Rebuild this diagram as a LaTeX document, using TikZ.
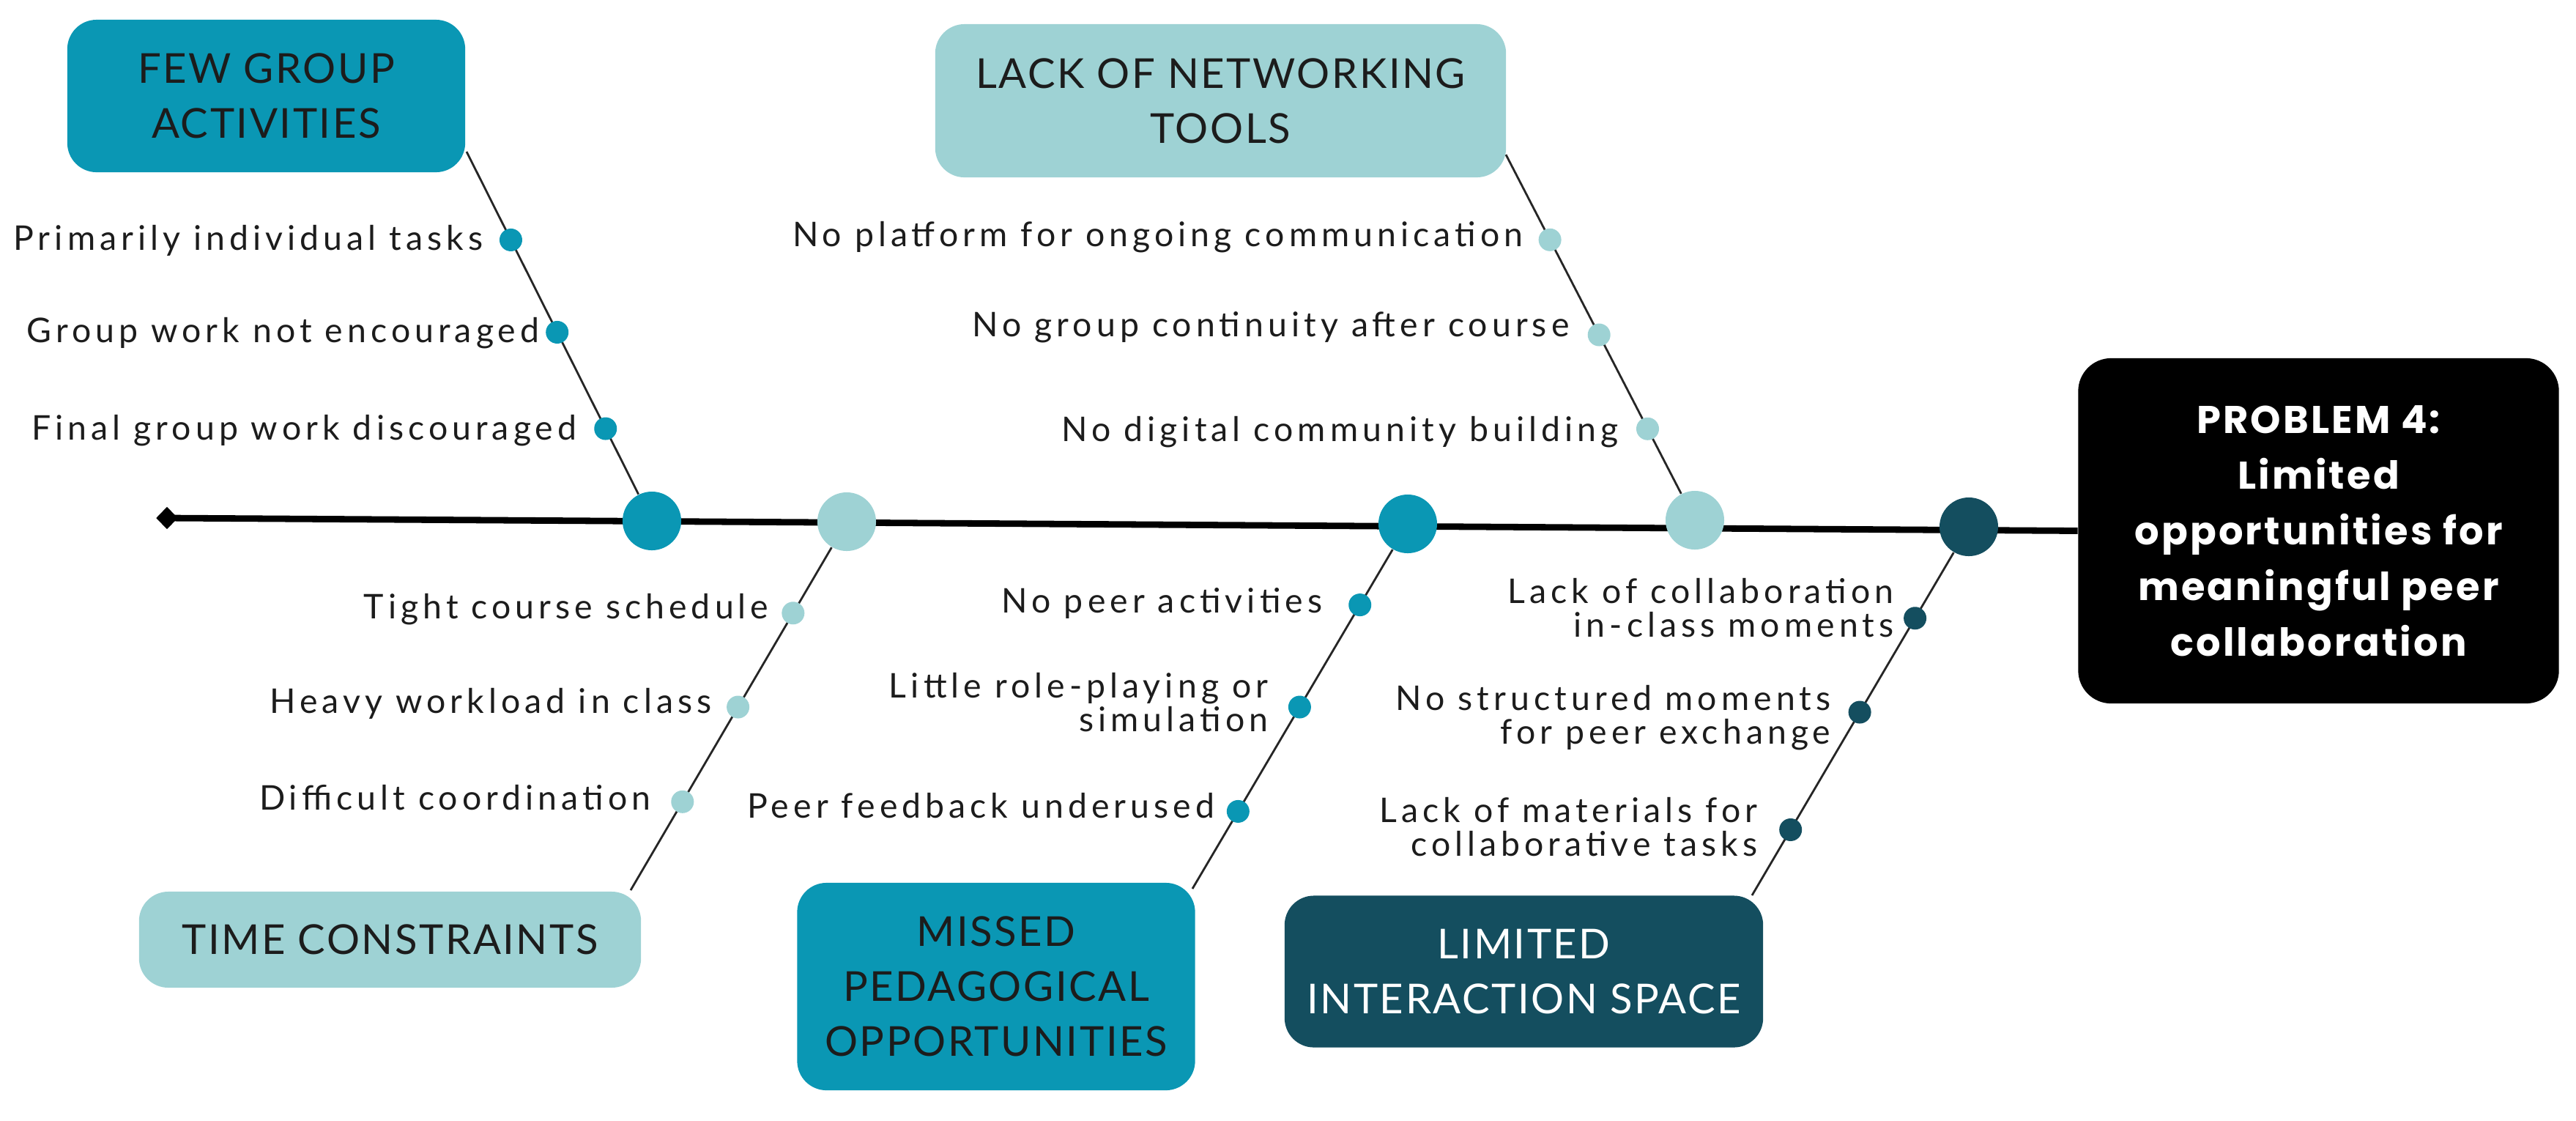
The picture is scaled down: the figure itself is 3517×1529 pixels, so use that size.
\documentclass[tikz,border=0pt]{standalone}
\usepackage{fontspec}
\setmainfont{Lato}
\newfontfamily\popfont{Poppins}
\usetikzlibrary{shapes.geometric,calc,backgrounds}
\definecolor{tealA}{HTML}{0A97B4}
\definecolor{tealL}{HTML}{9ED2D4}
\definecolor{tealD}{HTML}{144E5F}
\definecolor{txt}{HTML}{1C1C1C}
\newcommand\mylblfont{\addfontfeatures{LetterSpace=13.0}\fontsize{13.2}{13.1}\selectfont}
\newcommand\myboxfont{\addfontfeatures{LetterSpace=4.5}\fontsize{16}{21.3}\selectfont}
\newcommand\myprobfont{\popfont\bfseries\addfontfeatures{LetterSpace=6.0}\fontsize{15}{21.6}\selectfont}
\begin{document}
\begin{tikzpicture}[x=0.01cm,y=-0.01cm,
  box/.style={rounded corners=0.4cm, inner sep=0, align=center, font=\myboxfont, text=txt},
  spine/.style={line width=2.5pt, black},
  bone/.style={line width=0.8pt, black!85},
  bigdot/.style={circle, inner sep=0, minimum size=0.8cm},
  smalldot/.style={circle, inner sep=0, minimum size=0.31cm},
  lbl/.style={inner sep=0, font=\mylblfont, text=txt, align=right}]
\useasboundingbox (0,0) rectangle (3517,1529);
% category boxes
\node[box, fill=tealA, minimum width=5.43cm, minimum height=2.08cm] (few) at (363.5,131) {FEW GROUP\\ACTIVITIES};
\node[box, fill=tealL, minimum width=7.79cm, minimum height=2.09cm] (lack) at (1666.5,137.5) {LACK OF NETWORKING\\TOOLS};
\node[box, fill=tealL, minimum width=6.85cm, minimum height=1.31cm] (time) at (532.5,1282.5) {TIME CONSTRAINTS};
\node[box, fill=tealA, minimum width=5.43cm, minimum height=2.83cm] (missed) at (1360,1346.5) {MISSED\\PEDAGOGICAL\\OPPORTUNITIES};
\node[box, fill=tealD, text=white, minimum width=6.53cm, minimum height=2.07cm] (limited) at (2080.5,1326) {LIMITED\\INTERACTION SPACE};
\node[box, fill=black, text=white, rounded corners=0.45cm, minimum width=6.56cm, minimum height=4.71cm, font=\myprobfont] (prob) at (3165.5,724.5) {PROBLEM 4:\\Limited\\opportunities for\\meaningful peer\\collaboration};
% spine
\node[diamond, fill=black, inner sep=0, minimum width=0.3cm, minimum height=0.31cm] (tail) at (228,707) {};
\coordinate (p1) at (890,711);
\coordinate (p2) at (1156,712);
\coordinate (p3) at (1922,715);
\coordinate (p4) at (2314,710);
\coordinate (p5) at (2688,719);
% bone ends inside boxes
\coordinate (b1) at (637,207);
\coordinate (b2) at (2056,211);
\coordinate (b3) at (861,1215);
\coordinate (b4) at (1628,1213);
\coordinate (b5) at (2392,1222);
\node[bigdot, fill=tealA] (c1) at (p1) {};
\node[bigdot, fill=tealL] (c2) at (p2) {};
\node[bigdot, fill=tealA] (c3) at (p3) {};
\node[bigdot, fill=tealL] (c4) at (p4) {};
\node[bigdot, fill=tealD] (c5) at (p5) {};
% small dots
\node[smalldot, fill=tealA] (d11) at ($(b1)!0.239!(p1)$) {};
\node[smalldot, fill=tealA] (d12) at ($(b1)!0.489!(p1)$) {};
\node[smalldot, fill=tealA] (d13) at ($(b1)!0.750!(p1)$) {};
\node[smalldot, fill=tealL] (d21) at ($(b2)!0.233!(p4)$) {};
\node[smalldot, fill=tealL] (d22) at ($(b2)!0.493!(p4)$) {};
\node[smalldot, fill=tealL] (d23) at ($(b2)!0.750!(p4)$) {};
\node[smalldot, fill=tealL] (d31) at ($(p2)!0.248!(b3)$) {};
\node[smalldot, fill=tealL] (d32) at ($(p2)!0.503!(b3)$) {};
\node[smalldot, fill=tealL] (d33) at ($(p2)!0.760!(b3)$) {};
\node[smalldot, fill=tealA] (d41) at ($(p3)!0.222!(b4)$) {};
\node[smalldot, fill=tealA] (d42) at ($(p3)!0.502!(b4)$) {};
\node[smalldot, fill=tealA] (d43) at ($(p3)!0.788!(b4)$) {};
\node[smalldot, fill=tealD] (d51) at ($(p5)!0.248!(b5)$) {};
\node[smalldot, fill=tealD] (d52) at ($(p5)!0.503!(b5)$) {};
\node[smalldot, fill=tealD] (d53) at ($(p5)!0.822!(b5)$) {};
% connectors beneath
\begin{scope}[on background layer]
\draw[spine] (tail.center) -- (prob.west);
\draw[bone] (c1) -- (b1);
\draw[bone] (c4) -- (b2);
\draw[bone] (c2) -- (b3);
\draw[bone] (c3) -- (b4);
\draw[bone] (c5) -- (b5);
\end{scope}
% labels
\node[lbl, anchor=base east] (l11) at (660,341) {Primarily individual tasks};
\node[lbl, anchor=base east] (l12) at (737,467) {Group work not encouraged};
\node[lbl, anchor=base east] (l13) at (788,600) {Final group work discouraged};
\node[lbl, anchor=base east] (l21) at (2080,336) {No platform for ongoing communication};
\node[lbl, anchor=base east] (l22) at (2143,459) {No group continuity after course};
\node[lbl, anchor=base east] (l23) at (2210,602) {No digital community building};
\node[lbl, anchor=base east] (l31) at (1050,844) {Tight course schedule};
\node[lbl, anchor=base east] (l32) at (972,973) {Heavy workload in class};
\node[lbl, anchor=base east] (l33) at (889,1105) {Difficult coordination};
\node[lbl, anchor=base east] (l41) at (1806,836) {No peer activities};
\node[lbl, anchor=east] (l42) at (1732,959) {Little role-playing or\\simulation};
\node[lbl, anchor=base east] (l43) at (1659,1116) {Peer feedback underused};
\node[lbl, anchor=east] (l51) at (2586,830) {Lack of collaboration\\in-class moments};
\node[lbl, anchor=east] (l52) at (2500,980) {No structured moments\\for peer exchange};
\node[lbl, anchor=east] (l53) at (2400,1129) {Lack of materials for\\collaborative tasks};
\end{tikzpicture}
\end{document}
